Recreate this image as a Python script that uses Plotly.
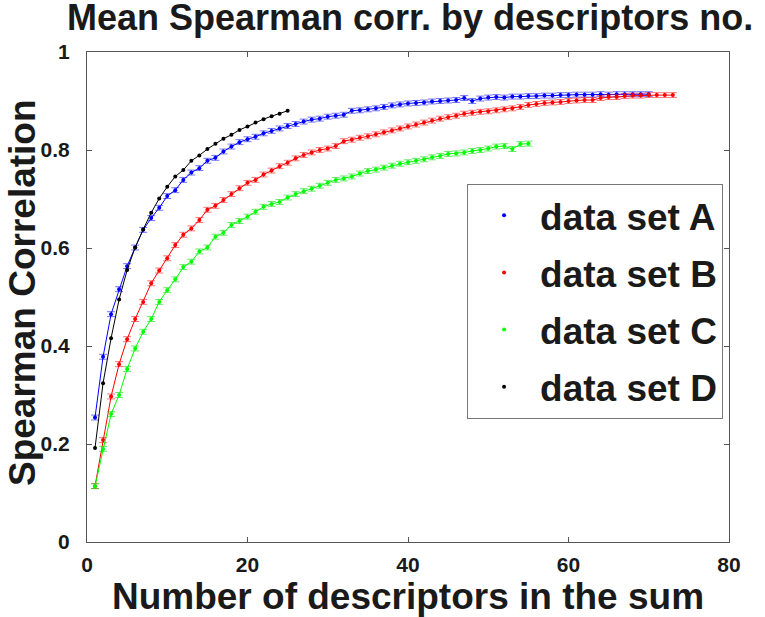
import plotly.graph_objects as go

# 各資料集：x = 1..N 個描述子，y = 平均 Spearman 相關
set_a = [0.254, 0.378, 0.465, 0.516, 0.563, 0.601, 0.637, 0.661, 0.682, 0.706,
         0.718, 0.739, 0.754, 0.763, 0.778, 0.784, 0.797, 0.807, 0.816, 0.822,
         0.827, 0.834, 0.839, 0.844, 0.849, 0.853, 0.858, 0.862, 0.864, 0.868,
         0.870, 0.872, 0.880, 0.881, 0.883, 0.885, 0.888, 0.891, 0.893, 0.895,
         0.896, 0.897, 0.899, 0.900, 0.901, 0.902, 0.906, 0.900, 0.905, 0.907,
         0.908, 0.907, 0.909, 0.909, 0.910, 0.910, 0.911, 0.911, 0.912, 0.912,
         0.913, 0.913, 0.913, 0.914, 0.913, 0.914, 0.914, 0.914, 0.914, 0.914]

set_b = [0.114, 0.208, 0.297, 0.363, 0.414, 0.455, 0.490, 0.528, 0.554, 0.579,
         0.606, 0.627, 0.640, 0.657, 0.678, 0.686, 0.698, 0.710, 0.722, 0.733,
         0.739, 0.750, 0.758, 0.767, 0.774, 0.783, 0.790, 0.795, 0.800, 0.803,
         0.808, 0.818, 0.821, 0.825, 0.828, 0.832, 0.836, 0.840, 0.844, 0.848,
         0.852, 0.856, 0.860, 0.864, 0.867, 0.870, 0.874, 0.876, 0.878, 0.879,
         0.881, 0.883, 0.885, 0.888, 0.892, 0.894, 0.896, 0.897, 0.898, 0.900,
         0.901, 0.902, 0.902, 0.906, 0.908, 0.908, 0.910, 0.911, 0.911, 0.912,
         0.912, 0.912, 0.912]

set_c = [0.114, 0.190, 0.261, 0.300, 0.353, 0.395, 0.429, 0.455, 0.490, 0.514,
         0.536, 0.561, 0.572, 0.593, 0.601, 0.623, 0.631, 0.647, 0.655, 0.664,
         0.674, 0.684, 0.690, 0.694, 0.703, 0.710, 0.716, 0.721, 0.727, 0.733,
         0.739, 0.742, 0.746, 0.752, 0.757, 0.760, 0.764, 0.768, 0.772, 0.775,
         0.778, 0.781, 0.785, 0.788, 0.792, 0.793, 0.795, 0.798, 0.800, 0.803,
         0.807, 0.808, 0.802, 0.812, 0.813]

set_d = [0.192, 0.324, 0.416, 0.495, 0.555, 0.601, 0.638, 0.672, 0.701, 0.725,
         0.746, 0.759, 0.778, 0.789, 0.802, 0.813, 0.823, 0.831, 0.841, 0.848,
         0.856, 0.863, 0.869, 0.874, 0.880]

series = [
    ('data set A', set_a, '#0000FF', 'rgba(0,0,255,0.55)', 0.005),
    ('data set B', set_b, '#FF0000', 'rgba(255,0,0,0.55)', 0.005),
    ('data set C', set_c, '#00FF00', 'rgba(0,220,0,0.6)', 0.005),
    ('data set D', set_d, '#000000', None, None),
]

FONT = 'Liberation Sans, Arial, Helvetica, sans-serif'

fig = go.Figure()

for name, vals, color, err_color, err in series:
    xs = list(range(1, len(vals) + 1))
    trace = dict(
        x=xs, y=vals,
        mode='lines+markers',
        line=dict(color=color, width=1),
        marker=dict(color=color, size=4),
        showlegend=False,
        hoverinfo='x+y',
    )
    if err is not None:
        trace['error_y'] = dict(type='constant', value=err, color=err_color,
                                thickness=1, width=4)
    fig.add_trace(go.Scatter(**trace))

# 圖例只顯示點（MATLAB errorbar 風格）
for name, vals, color, _, _ in series:
    fig.add_trace(go.Scatter(
        x=[None], y=[None], mode='markers', name=name,
        marker=dict(color=color, size=4),
        legendgroup=name,
    ))

fig.update_layout(
    width=765, height=617,
    margin=dict(l=87, r=36, t=52, b=75),
    plot_bgcolor='white',
    paper_bgcolor='white',
    font=dict(family=FONT, color='#1a1a1a'),
    title=dict(
        text='Mean Spearman corr. by descriptors no.',
        x=0.536, xanchor='center',
        y=0.993, yanchor='top',
        font=dict(size=36, weight='bold', family=FONT, color='#1a1a1a'),
    ),
    legend=dict(
        x=0.592, y=0.731, xanchor='left', yanchor='top',
        bgcolor='white',
        bordercolor='#777777', borderwidth=1,
        font=dict(size=37, weight='bold', family=FONT, color='#1a1a1a'),
        tracegroupgap=6,
        itemwidth=62,
    ),
)

# y 軸標題以註解放置，貼近左緣
fig.add_annotation(
    text='Spearman Correlation',
    xref='paper', yref='paper',
    x=0, y=0.5, xanchor='center', yanchor='middle',
    xshift=-65, yshift=4,
    textangle=-90, showarrow=False,
    font=dict(size=37, weight='bold', family=FONT, color='#1a1a1a'),
)

fig.update_xaxes(
    range=[0, 80], tickvals=[0, 20, 40, 60, 80],
    showgrid=False, zeroline=False, automargin=False,
    showline=True, linecolor='#555555', linewidth=1, mirror='ticks',
    ticks='inside', ticklen=5, tickcolor='#555555',
    tickfont=dict(size=21, weight='bold', family=FONT),
    ticklabelstandoff=4,
    title=dict(text='Number of descriptors in the sum', standoff=2,
               font=dict(size=37, weight='bold', family=FONT)),
)

fig.update_yaxes(
    range=[0, 1], tickvals=[0, 0.2, 0.4, 0.6, 0.8, 1],
    ticktext=['0', '0.2', '0.4', '0.6', '0.8', '1'],
    showgrid=False, zeroline=False, automargin=False,
    showline=True, linecolor='#555555', linewidth=1, mirror='ticks',
    ticks='inside', ticklen=5, tickcolor='#555555',
    tickfont=dict(size=21, weight='bold', family=FONT),
    ticklabelstandoff=12,
)

# 去掉頁面 body 的預設 8px 邊距，讓圖表貼齊視窗；隱藏工具列
fig.write_html('out.html',
               config={'displayModeBar': False},
               post_script="document.body.style.margin = '0';")
